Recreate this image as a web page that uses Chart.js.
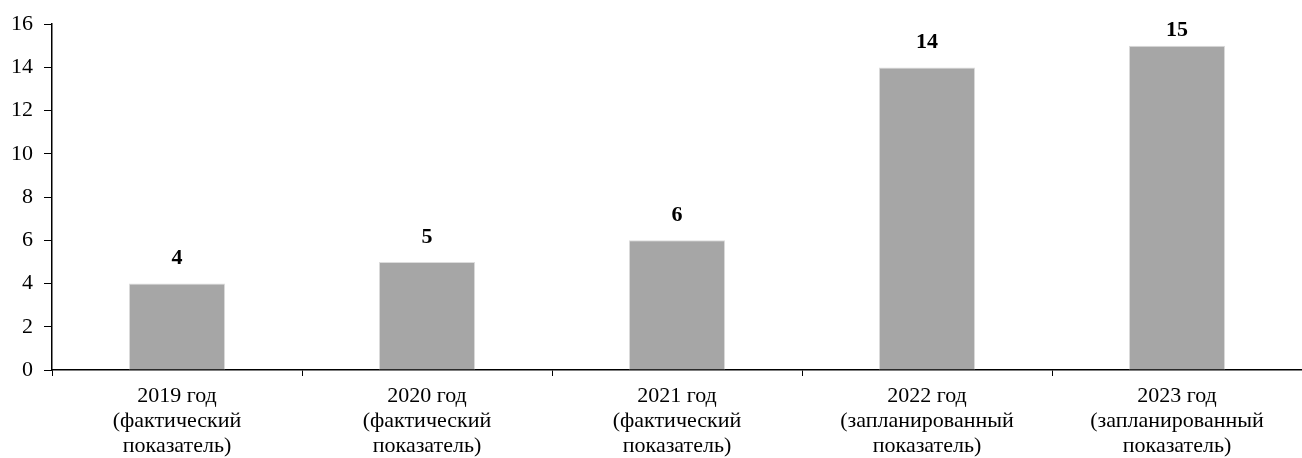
<!DOCTYPE html>
<html>
<head>
<meta charset="utf-8">
<script src="https://cdn.jsdelivr.net/npm/chart.js@4/dist/chart.umd.min.js"></script>
<style>
  html, body { margin: 0; padding: 0; background: #fff; }
  #wrap { width: 1302px; height: 458px; }
</style>
</head>
<body>
<div id="wrap"><canvas id="chart" width="1302" height="458"></canvas></div>
<script>
// --- Data ---
const categories = [
    ['2019 год', '(фактический', 'показатель)'],
    ['2020 год', '(фактический', 'показатель)'],
    ['2021 год', '(фактический', 'показатель)'],
    ['2022 год', '(запланированный', 'показатель)'],
    ['2023 год', '(запланированный', 'показатель)']
];
const values = [4, 5, 6, 14, 15];
const yTicks = [0, 2, 4, 6, 8, 10, 12, 14, 16];

const FONT = '"Liberation Serif", "Times New Roman", serif';

// value labels above bars (kept inside the plot area like Excel does)
const barLabels = {
    id: 'barLabels',
    afterDatasetsDraw(chart) {
        const ctx = chart.ctx;
        const meta = chart.getDatasetMeta(0);
        ctx.save();
        ctx.font = 'bold 22px ' + FONT;
        ctx.fillStyle = '#000';
        ctx.textAlign = 'center';
        ctx.textBaseline = 'middle';
        meta.data.forEach((bar, i) => {
            const y = Math.max(bar.y - 25, chart.chartArea.top + 6);
            ctx.fillText(values[i], bar.x, y);
        });
        ctx.restore();
    }
};

const ctx = document.getElementById('chart').getContext('2d');
new Chart(ctx, {
    type: 'bar',
    data: {
        labels: categories,
        datasets: [{
            data: values,
            backgroundColor: '#a6a6a6',
            borderColor: '#dcdcdc',
            borderWidth: 1,
            barPercentage: 0.77,
            categoryPercentage: 0.5
        }]
    },
    options: {
        responsive: false,
        animation: false,
        devicePixelRatio: 1,
        layout: { padding: { top: 21, right: 0, left: 0, bottom: 0 } },
        plugins: {
            legend: { display: false },
            tooltip: { enabled: false }
        },
        scales: {
            x: {
                offset: true,
                afterFit: (scale) => { scale.height = 88; },
                grid: {
                    offset: true,
                    drawOnChartArea: false,
                    tickLength: 6,
                    color: '#000',
                    lineWidth: 1
                },
                border: { color: '#000', width: 1.5 },
                ticks: {
                    color: '#000',
                    padding: 8,
                    maxRotation: 0,
                    autoSkip: false,
                    font: { family: FONT, size: 22, lineHeight: 1.13 }
                }
            },
            y: {
                min: 0,
                max: 16,
                afterFit: (scale) => { scale.width = 52; },
                afterBuildTicks: (scale) => { scale.ticks = yTicks.map(v => ({ value: v })); },
                grid: {
                    drawOnChartArea: false,
                    tickLength: 8,
                    color: '#000',
                    lineWidth: 1
                },
                border: { color: '#000', width: 1.5 },
                ticks: {
                    color: '#000',
                    padding: 11,
                    font: { family: FONT, size: 22 }
                }
            }
        }
    },
    plugins: [barLabels]
});
</script>
</body>
</html>
